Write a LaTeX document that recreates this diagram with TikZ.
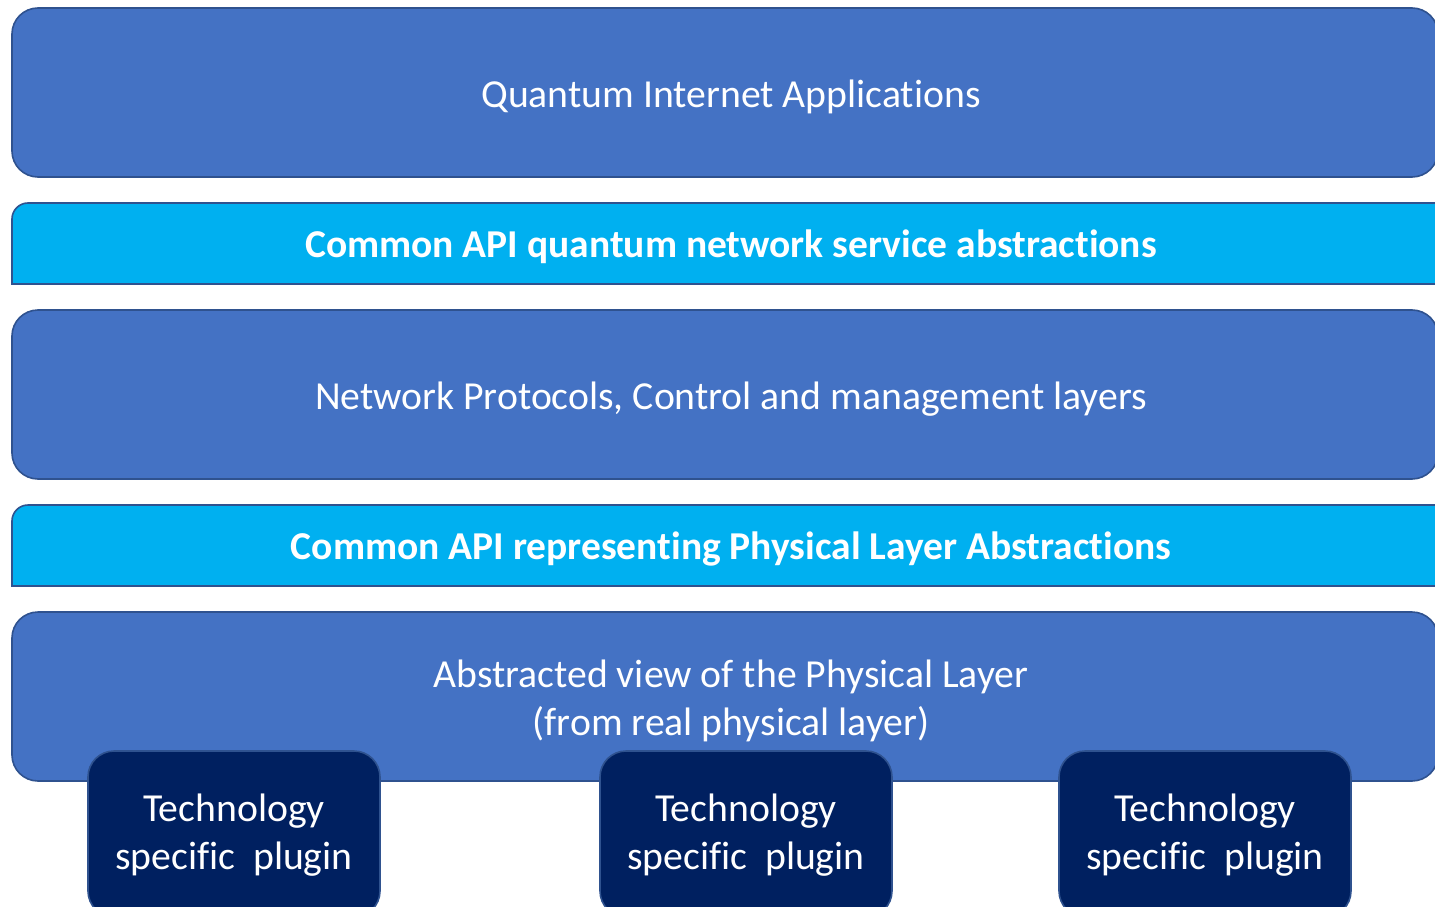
\documentclass[tikz,border=0pt]{standalone}
\usepackage{fontspec}
\setmainfont[Ligatures=NoCommon]{Carlito}
\usetikzlibrary{calc}
\definecolor{layerblue}{HTML}{4472C4}
\definecolor{layeredge}{HTML}{2F528F}
\definecolor{apicyan}{HTML}{00B0F0}
\definecolor{plugnavy}{HTML}{002060}
\tikzset{
  x=1pt, y=-1pt,
  layer/.style={draw=layeredge, line width=1.6pt, fill=layerblue, rounded corners=26pt},
  apibar/.style={draw=layeredge, line width=1.6pt, fill=apicyan},
  plugbox/.style={draw=layeredge, line width=1.6pt, fill=plugnavy, rounded corners=26pt},
  plain/.style={text=white, font=\fontsize{39.7}{48}\selectfont, align=center},
  boldtxt/.style={text=white, font=\fontsize{39.5}{44}\selectfont\bfseries, align=center},
}
\begin{document}
\begin{tikzpicture}
\useasboundingbox (0,0) rectangle (1435,907);
\clip (0,0) rectangle (1435,907);

% main layers
\draw[layer] (12,8) rectangle (1438,177);
\node[plain] (apps) at (731,97) {Quantum Internet Applications};

\coordinate (c1nw) at (12,203);
\coordinate (c1se) at (1445,284);
\draw[apibar] (c1se |- c1nw) -- ($(c1nw)+(16,0)$) arc[start angle=270, end angle=180, radius=16] -- (c1nw |- c1se) -- (c1se) -- cycle;
\node[boldtxt] (svc) at (731,247) {Common API quantum network service abstractions};

\draw[layer] (12,310) rectangle (1438,479);
\node[plain] (proto) at (731,399) {Network Protocols, Control and management layers};

\coordinate (c2nw) at (12,505);
\coordinate (c2se) at (1445,586);
\draw[apibar] (c2se |- c2nw) -- ($(c2nw)+(16,0)$) arc[start angle=270, end angle=180, radius=16] -- (c2nw |- c2se) -- (c2se) -- cycle;
\node[boldtxt] (phyapi) at (731,549) {Common API representing Physical Layer Abstractions};

\draw[layer] (12,612) rectangle (1438,781);
\node[plain] (phys) at (731,701) {Abstracted view of the Physical Layer\\(from real physical layer)};

% technology plugins
\foreach \cx/\nm in {234/pA, 746/pB, 1205/pC}{
  \draw[plugbox] (\cx-146,751) rectangle (\cx+146,917);
  \node[plain] (\nm) at (\cx,835) {Technology\\specific\ \ plugin};
}
\end{tikzpicture}
\end{document}
